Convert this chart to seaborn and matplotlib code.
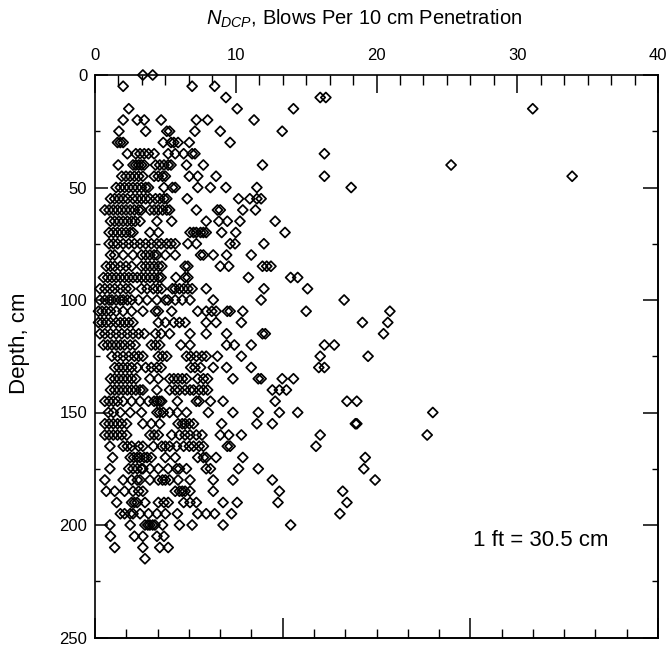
import matplotlib
matplotlib.use("Agg")
import matplotlib.pyplot as plt
import pandas as pd
import seaborn as sns
from matplotlib.ticker import MultipleLocator

sns.set_theme(style="ticks")
plt.rcParams['font.family'] = ['Liberation Sans', 'DejaVu Sans']
plt.rcParams['mathtext.fontset'] = 'custom'
plt.rcParams['mathtext.it'] = 'Liberation Sans:italic'
plt.rcParams['mathtext.rm'] = 'Liberation Sans'

# N_DCP values (blows per 10 cm) observed at each depth (cm)
n000 = [3.4, 4.1]
n005 = [2.0, 6.9, 8.5]
n010 = [9.3, 16.0, 16.4]
n015 = [2.4, 10.1, 14.1, 31.1]
n020 = [2.0, 3.0, 3.5, 4.7, 7.2, 8.0, 11.3]
n025 = [1.7, 3.6, 5.1, 5.3, 7.1, 8.9, 13.3]
n030 = [1.6, 1.8, 2.0, 4.85, 5.4, 5.6, 5.9, 6.7, 9.6]
n035 = [2.3, 2.9, 3.2, 3.5, 3.8, 4.2, 5.2, 5.7, 6.3, 6.9, 7.1, 16.3]
n040 = [1.65, 2.7, 2.9, 3.1, 3.3, 3.5, 4.3, 4.6, 4.9, 5.2, 5.4, 6.5, 7.7, 11.9, 25.3]
n045 = [1.9, 2.2, 2.5, 2.8, 3.1, 3.4, 4.2, 4.5, 4.8, 5.0, 6.7, 7.3, 8.6, 16.3, 33.9]
n050 = [1.5, 1.8, 2.1, 2.4, 2.7, 3.0, 3.3, 3.6, 3.8, 4.9, 5.5, 5.7, 7.3, 8.2, 9.3, 11.5, 18.2]
n055 = [1.1, 1.4, 1.7, 2.0, 2.3, 2.7, 3.0, 3.3, 3.6, 3.9, 4.3, 4.6, 4.9, 5.1, 6.55, 10.2, 11.0, 11.5, 11.8]
n060 = [0.7, 1.0, 1.3, 1.6, 1.9, 2.2, 2.5, 2.8, 3.1, 3.3, 3.9, 4.2, 4.5, 4.8, 5.1, 5.3, 7.2, 8.7, 8.9, 10.5, 11.4]
n065 = [1.1, 1.4, 1.7, 2.0, 2.3, 2.6, 2.85, 3.2, 4.4, 5.45, 7.9, 8.8, 9.4, 10.3, 12.8]
n070 = [1.0, 1.3, 1.6, 1.9, 2.2, 2.5, 2.7, 3.9, 4.5, 6.75, 7.0, 7.2, 7.5, 7.7, 7.9, 9.0, 10.0, 13.5]
n075 = [1.0, 1.3, 1.6, 2.0, 2.4, 2.8, 3.2, 3.6, 4.0, 4.4, 4.7, 5.1, 5.4, 5.7, 6.6, 7.2, 9.6, 9.95, 12.0]
n080 = [1.1, 1.4, 2.0, 2.7, 3.3, 3.6, 3.9, 4.2, 4.4, 5.0, 5.7, 7.5, 7.7, 8.4, 9.35, 11.1]
n085 = [0.8, 1.1, 1.4, 1.8, 2.2, 2.6, 3.3, 3.6, 3.9, 4.2, 4.5, 4.75, 6.4, 6.6, 8.9, 9.5, 11.9, 12.2, 12.5]
n090 = [0.6, 0.9, 1.2, 1.5, 1.8, 2.1, 2.4, 2.7, 3.0, 3.3, 3.6, 3.9, 4.2, 4.5, 4.7, 5.75, 6.4, 6.6, 10.9, 13.9, 14.4]
n095 = [0.35, 0.7, 1.06, 1.4, 1.8, 2.2, 2.5, 3.3, 3.7, 4.15, 4.45, 4.74, 5.5, 5.7, 6.0, 6.3, 6.6, 6.9, 7.9, 12.0, 15.1]
n100 = [0.35, 0.7, 1.0, 1.2, 1.5, 1.8, 2.0, 2.3, 2.6, 3.1, 3.7, 4.4, 5.0, 5.2, 5.7, 6.2, 6.75, 8.4, 11.8, 17.7]
n105 = [0.25, 0.5, 0.8, 1.1, 1.5, 2.0, 2.6, 3.4, 4.3, 4.5, 5.45, 7.3, 7.9, 8.3, 8.6, 9.4, 9.6, 10.5, 15.0, 20.95]
n110 = [0.25, 0.5, 0.8, 1.1, 1.5, 1.8, 2.1, 2.4, 2.7, 4.5, 5.0, 5.6, 6.0, 6.4, 7.9, 8.6, 10.4, 19.0, 20.8]
n115 = [0.35, 0.7, 1.1, 1.5, 1.9, 2.3, 2.7, 3.1, 3.5, 4.3, 4.7, 5.3, 6.75, 7.9, 9.35, 11.9, 12.1, 20.5]
n120 = [0.6, 0.9, 1.2, 1.5, 1.8, 2.1, 2.5, 2.85, 4.0, 4.3, 4.6, 6.1, 6.75, 9.35, 9.9, 11.1, 16.3, 17.0]
n125 = [1.2, 1.6, 2.0, 2.4, 2.8, 3.1, 3.4, 4.5, 4.8, 5.1, 6.5, 6.8, 7.2, 7.6, 7.9, 8.7, 10.4, 16.0, 19.4]
n130 = [1.4, 1.7, 2.0, 2.3, 2.6, 3.0, 3.6, 4.0, 4.4, 4.7, 6.8, 7.1, 7.5, 8.4, 9.35, 11.1, 15.9, 16.3]
n135 = [1.1, 1.4, 1.7, 2.0, 2.3, 2.6, 2.9, 3.9, 4.5, 5.3, 5.6, 5.9, 6.2, 6.5, 7.3, 7.7, 8.0, 9.8, 11.6, 11.8, 13.3, 14.1]
n140 = [1.1, 1.4, 1.7, 2.0, 2.3, 2.6, 2.9, 3.2, 3.4, 4.4, 5.3, 5.7, 6.0, 6.4, 6.75, 7.0, 7.4, 7.7, 8.0, 12.6, 13.1, 13.6]
n145 = [0.7, 1.0, 1.3, 1.6, 2.0, 2.6, 3.2, 3.8, 4.2, 4.4, 4.6, 4.74, 5.85, 7.2, 7.4, 8.2, 9.1, 12.8, 17.9, 18.6]
n150 = [0.95, 1.3, 1.8, 2.5, 3.3, 4.4, 4.6, 4.85, 5.3, 5.85, 6.5, 8.05, 9.8, 11.6, 13.1, 14.4, 24.0]
n155 = [0.7, 1.0, 1.3, 1.6, 1.9, 2.25, 3.4, 4.0, 4.6, 5.9, 6.2, 6.4, 6.7, 7.0, 9.0, 11.5, 12.6, 18.5, 18.6]
n160 = [0.7, 1.0, 1.3, 1.6, 1.9, 2.25, 3.9, 4.2, 4.5, 5.45, 6.0, 6.4, 6.75, 7.2, 7.6, 8.9, 9.5, 10.4, 16.0, 23.6]
n165 = [1.06, 2.0, 2.3, 2.6, 3.1, 3.4, 4.15, 4.74, 5.0, 5.3, 5.8, 6.3, 6.7, 7.0, 7.4, 7.7, 9.4, 9.6, 15.7]
n170 = [1.25, 2.5, 2.75, 3.0, 3.2, 3.5, 3.7, 4.0, 5.0, 5.7, 7.3, 7.7, 7.9, 8.6, 10.5, 19.2]
n175 = [1.06, 2.4, 2.7, 3.0, 3.3, 3.4, 3.9, 4.5, 5.2, 5.8, 6.0, 6.5, 7.9, 8.2, 10.2, 11.6, 19.1]
n180 = [0.7, 2.0, 2.6, 3.0, 3.2, 3.9, 4.5, 4.8, 5.0, 5.3, 5.9, 6.75, 8.4, 9.8, 12.6, 19.9]
n185 = [0.8, 1.4, 2.1, 2.7, 3.1, 3.4, 5.7, 6.0, 6.2, 6.4, 6.75, 8.4, 13.1, 17.6]
n190 = [1.54, 2.6, 2.8, 3.0, 3.55, 4.5, 4.9, 5.2, 6.3, 6.75, 7.2, 9.1, 10.1, 13.0, 17.9]
n195 = [1.8, 2.1, 2.5, 2.7, 3.2, 3.8, 4.4, 5.0, 5.85, 7.3, 7.9, 8.5, 9.7, 17.4]
n200 = [1.06, 2.5, 3.55, 3.75, 3.9, 4.1, 4.26, 4.8, 6.0, 6.9, 9.1, 13.9]
n205 = [1.1, 2.8, 3.4, 4.4, 4.9]
n210 = [1.4, 3.4, 4.6, 5.2]
n215 = [3.55]

depths = [0, 5, 10, 15, 20, 25, 30, 35, 40, 45, 50, 55, 60, 65, 70, 75, 80, 85,
          90, 95, 100, 105, 110, 115, 120, 125, 130, 135, 140, 145, 150, 155,
          160, 165, 170, 175, 180, 185, 190, 195, 200, 205, 210, 215]
series = [n000, n005, n010, n015, n020, n025, n030, n035, n040, n045, n050,
          n055, n060, n065, n070, n075, n080, n085, n090, n095, n100, n105,
          n110, n115, n120, n125, n130, n135, n140, n145, n150, n155, n160,
          n165, n170, n175, n180, n185, n190, n195, n200, n205, n210, n215]

title_text = r"$N_{DCP}$, Blows Per 10 cm Penetration"
ylabel_text = "Depth, cm"
note_text = "1 ft = 30.5 cm"

records = [(x, d) for d, xs in zip(depths, series) for x in xs]
df = pd.DataFrame(records, columns=["N", "Depth"])

W, H = 670, 649
fig = plt.figure(figsize=(W / 100, H / 100), dpi=100)
x0, x1, y0, y1 = 95, 658, 75, 637.5
ax = fig.add_axes([x0 / W, 1 - y1 / H, (x1 - x0) / W, (y1 - y0) / H])

sns.scatterplot(data=df, x="N", y="Depth", marker="D", s=26,
                facecolors="none", edgecolors="black", linewidth=1.25,
                ax=ax, legend=False, zorder=3, clip_on=False)

ax.set_xlim(0, 40)
ax.set_ylim(250, 0)
ax.set_xlabel("")
ax.set_ylabel("")

for sp in ax.spines.values():
    sp.set_visible(True)
    sp.set_color("black")
    sp.set_linewidth(1.2)

# top axis (labelled)
ax.xaxis.set_major_locator(MultipleLocator(10))
ax.xaxis.set_minor_locator(MultipleLocator(10 / 6))
ax.tick_params(axis="x", which="both", direction="in", top=True, bottom=False,
               labeltop=True, labelbottom=False, color="black")
ax.tick_params(axis="x", which="major", length=13, width=1.1, pad=8.5,
               labelsize=12, labelcolor="black")
ax.tick_params(axis="x", which="minor", length=7, width=1.0)

# left axis
ax.yaxis.set_major_locator(MultipleLocator(50))
ax.yaxis.set_minor_locator(MultipleLocator(25))
ax.tick_params(axis="y", which="both", direction="in", left=True, right=False,
               color="black")
ax.tick_params(axis="y", which="major", length=9.5, width=1.1, pad=5.5,
               labelsize=12, labelcolor="black")
ax.tick_params(axis="y", which="minor", length=3.6, width=1.0)

# bottom axis (unlabelled, different subdivision)
bx = ax.secondary_xaxis("bottom")
bx.xaxis.set_major_locator(MultipleLocator(40 / 3))
bx.xaxis.set_minor_locator(MultipleLocator(40 / 18))
bx.tick_params(axis="x", which="both", direction="in", labelbottom=False,
               color="black")
bx.tick_params(axis="x", which="major", length=14.4, width=1.1)
bx.tick_params(axis="x", which="minor", length=6.5, width=1.0)
bx.spines["bottom"].set_color("black")
bx.spines["bottom"].set_linewidth(1.2)

# right axis (unlabelled)
ry = ax.secondary_yaxis("right")
ry.yaxis.set_major_locator(MultipleLocator(50))
ry.yaxis.set_minor_locator(MultipleLocator(25))
ry.tick_params(axis="y", which="both", direction="in", labelright=False,
               color="black")
ry.tick_params(axis="y", which="major", length=10.8, width=1.1)
ry.tick_params(axis="y", which="minor", length=4.3, width=1.0)
ry.spines["right"].set_color("black")
ry.spines["right"].set_linewidth(1.2)

fig.text(364.5 / W, 1 - 19 / H, title_text, ha="center", va="center",
         fontsize=14.5, color="black")
fig.text(20 / W, 1 - 343 / H, ylabel_text, ha="center", va="center",
         rotation=90, fontsize=16, color="black")
ax.text(26.85, 206.7, note_text, ha="left", va="center", fontsize=16,
        color="black")

fig.savefig("out.png", dpi=100)
